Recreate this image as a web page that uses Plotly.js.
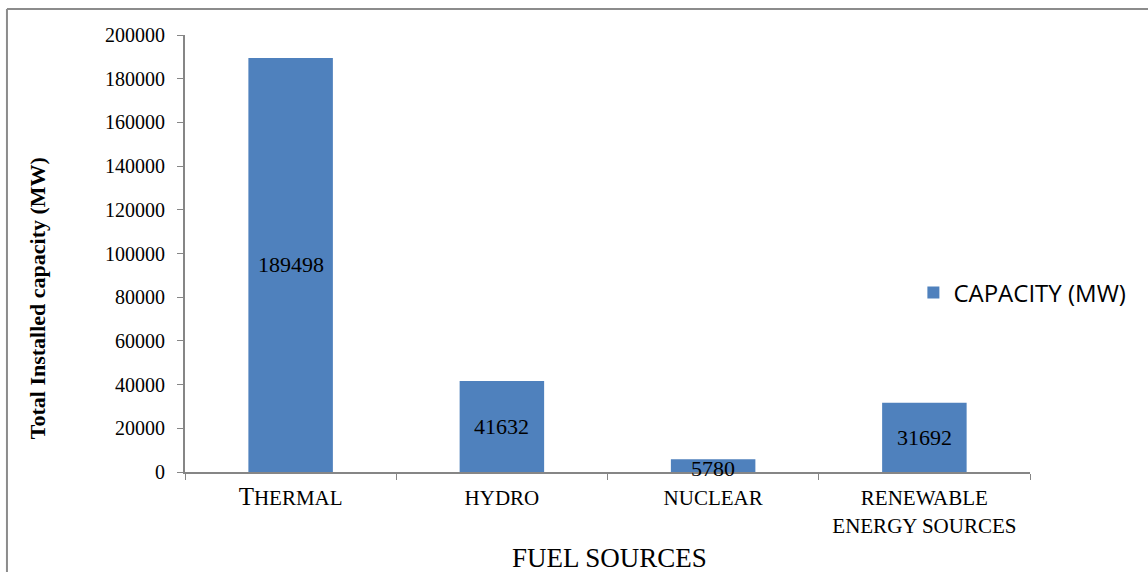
<!DOCTYPE html>
<html>
<head>
<meta charset="utf-8">
<script src="https://cdn.plot.ly/plotly-3.0.1.min.js"></script>
<style>
  html, body { margin: 0; padding: 0; background: #fff; }
  #chart { width: 1148px; height: 572px; }
</style>
</head>
<body>
<div id="chart"></div>
<script>
// fuel sources and installed capacity (MW)
let categories = ["THERMAL", "HYDRO", "NUCLEAR", "RENEWABLE ENERGY SOURCES"];
let tickLabels = ["<span style='font-size:25px'>T</span>HERMAL", "HYDRO", "NUCLEAR", "RENEWABLE<br>ENERGY SOURCES"];
let capacity = [189498, 41632, 5780, 31692];
let yTicks = [0, 20000, 40000, 60000, 80000, 100000, 120000, 140000, 160000, 180000, 200000];

let serif = "Liberation Serif, Times New Roman, serif";

let trace1 = {
  x: categories,
  y: capacity,
  type: "bar",
  name: "CAPACITY (MW)",
  marker: {color: "#4F81BD"},
  hoverinfo: "x+y"
};

// value labels in the middle of each bar
let labels = categories.map((c, i) => ({
  x: c,
  y: capacity[i] / 2,
  xref: "x",
  yref: "y",
  text: String(capacity[i]),
  showarrow: false,
  font: {family: serif, size: 22, color: "#000"}
}));
// the nuclear label sits at the top of its thin bar
labels[2].y = capacity[2] * 0.25;

// axis titles
labels.push({
  xref: "paper", yref: "paper", x: -0.175, y: 0.398, xanchor: "center", yanchor: "middle",
  text: "<b>Total Installed capacity (MW)</b>", textangle: -90, showarrow: false,
  font: {family: serif, size: 22, color: "#000"}
});
labels.push({
  xref: "paper", yref: "paper", x: 0.502, y: -0.197, xanchor: "center", yanchor: "middle",
  text: "FUEL SOURCES", showarrow: false,
  font: {family: serif, size: 27, color: "#000"}
});

let layout = {
  width: 1148,
  height: 572,
  margin: {l: 185, r: 118, t: 35, b: 100},
  paper_bgcolor: "#fff",
  plot_bgcolor: "#fff",
  bargap: 0.6,
  showlegend: true,
  legend: {
    x: 0.862, y: 0.41, xanchor: "left", yanchor: "middle",
    font: {family: "Open Sans, sans-serif", size: 24, color: "#000"},
    itemwidth: 30
  },
  xaxis: {
    tickvals: categories,
    ticktext: tickLabels,
    tickson: "boundaries",
    ticks: "outside",
    ticklen: 6,
    tickcolor: "#868686",
    showline: true,
    linecolor: "#868686",
    linewidth: 2,
    showgrid: false,
    ticklabelstandoff: 6,
    tickfont: {family: serif, size: 21, color: "#000"}
  },
  yaxis: {
    range: [0, 200000],
    tickvals: yTicks,
    ticktext: yTicks.map(String),
    ticks: "outside",
    ticklen: 6,
    tickcolor: "#868686",
    showline: true,
    linecolor: "#868686",
    linewidth: 2,
    showgrid: false,
    zeroline: false,
    ticklabelstandoff: 8,
    tickfont: {family: serif, size: 20, color: "#000"}
  },
  annotations: labels,
  shapes: [
    {type: "line", xref: "paper", yref: "paper", x0: -0.2107, x1: 1.16, y0: 1.0595, y1: 1.0595, line: {color: "#8c8c8c", width: 2}},
    {type: "line", xref: "paper", yref: "paper", x0: -0.2107, x1: -0.2107, y0: -0.25, y1: 1.0595, line: {color: "#8c8c8c", width: 2}}
  ]
};

Plotly.newPlot("chart", [trace1], layout, {displayModeBar: false});
</script>
</body>
</html>
